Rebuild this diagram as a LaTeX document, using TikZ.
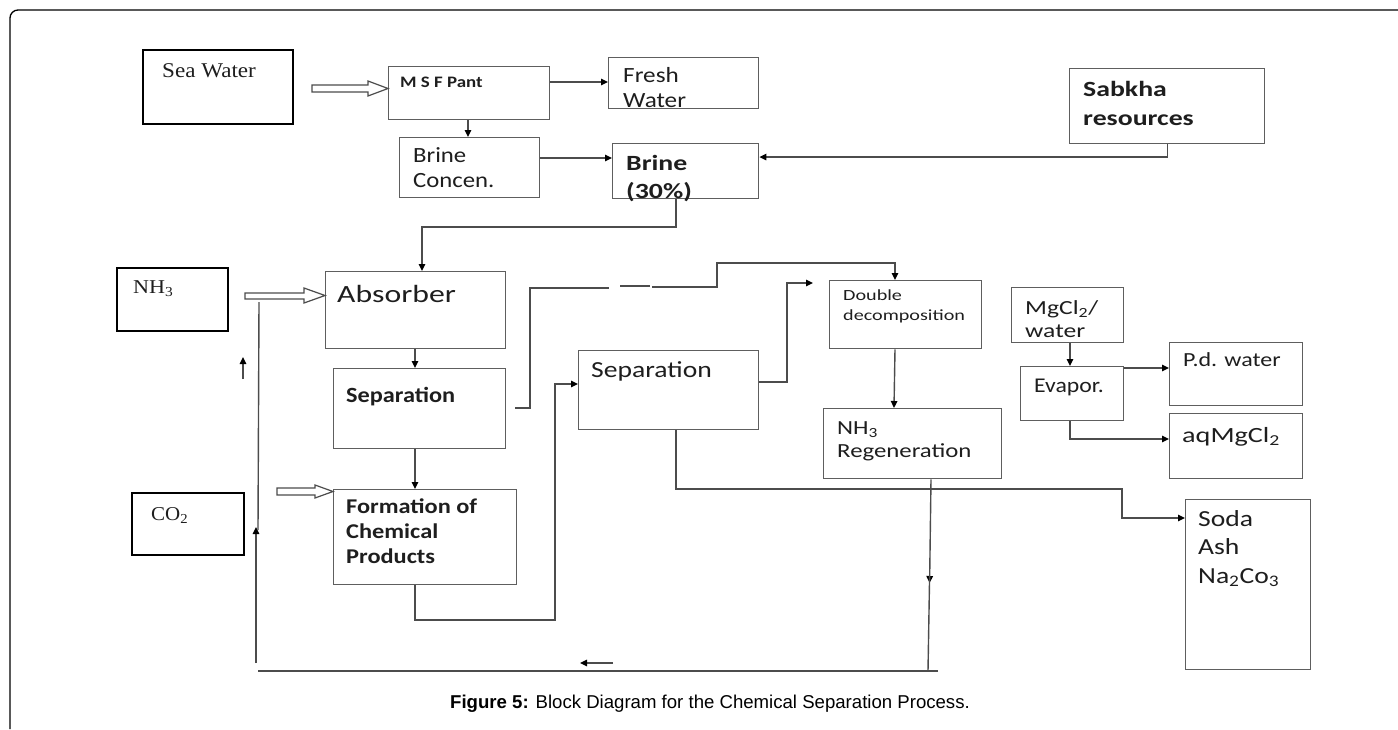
\documentclass[tikz,border=0pt]{standalone}
\usepackage{fontspec}
\usepackage{graphicx}
\setmainfont{Liberation Sans}
\newfontfamily\carl{Carlito}
\newfontfamily\tmsf{Liberation Serif}
\usetikzlibrary{arrows.meta,calc}
\definecolor{bxc}{HTML}{5E5E5E}
\definecolor{lnc}{HTML}{4C4C4C}
\definecolor{txc}{HTML}{1E1E1E}
\newcommand\rgT[3]{{\carl\fontsize{#1}{#1}\selectfont\scalebox{#2}[1]{#3}}}
\newcommand\bdT[3]{{\carl\bfseries\fontsize{#1}{#1}\selectfont\scalebox{#2}[1]{#3}}}
\newcommand\tmT[3]{{\tmsf\fontsize{#1}{#1}\selectfont\scalebox{#2}[1]{#3}}}
\begin{document}
\begin{tikzpicture}[x=1pt,y=-1pt,
  box/.style={draw=bxc, line width=1.4pt, inner sep=0pt, anchor=north west},
  kbox/.style={box, draw=black, line width=1.8pt},
  lbl/.style={inner sep=0pt, anchor=base west, text=txc},
  ln/.style={draw=lnc, line width=1.4pt},
  arr/.style={ln, -{Triangle[length=7pt,width=6.5pt,color=black]}},
  hol/.style={draw=lnc, line width=1.2pt, fill=white}]
\useasboundingbox (0,0) rectangle (1398,729);
% frame
\draw[line width=1.3pt, rounded corners=8pt] (10,729) -- (10,10) -- (1398,10);

% boxes
\node[kbox, minimum width=150pt, minimum height=74pt] (sea) at (142,49) {};
\node[box, minimum width=161pt, minimum height=53pt] (msf) at (388,66) {};
\node[box, minimum width=150pt, minimum height=51pt] (fresh) at (608,57) {};
\node[box, minimum width=140pt, minimum height=60pt] (brineC) at (399,137) {};
\node[box, minimum width=146pt, minimum height=55pt] (brine30) at (612,143) {};
\node[box, minimum width=195pt, minimum height=75pt] (sabkha) at (1069,68) {};
\node[kbox, minimum width=111pt, minimum height=63pt] (nh3) at (116,267) {};
\node[box, minimum width=180pt, minimum height=77pt] (absorber) at (325,271) {};
\node[box, minimum width=172pt, minimum height=80pt] (sep1) at (333,368) {};
\node[box, minimum width=183pt, minimum height=95pt] (formation) at (333,489) {};
\node[kbox, minimum width=112pt, minimum height=62pt] (co2) at (131,492) {};
\node[box, minimum width=180pt, minimum height=79pt] (sep2) at (578,350) {};
\node[box, minimum width=152pt, minimum height=68pt] (double) at (829,280) {};
\node[box, minimum width=178pt, minimum height=70pt] (nh3r) at (823,408) {};
\node[box, minimum width=112pt, minimum height=55pt] (mg) at (1011,287) {};
\node[box, minimum width=103pt, minimum height=54pt] (evap) at (1020,366) {};
\node[box, minimum width=133pt, minimum height=63pt] (pd) at (1169,342) {};
\node[box, minimum width=133pt, minimum height=65pt] (aq) at (1169,413) {};
\node[box, minimum width=125pt, minimum height=170pt] (soda) at (1185,499) {};

% texts
\node[lbl] (seaT) at (162,77) {\tmT{21}{1.10}{Sea Water}};
\node[lbl] (msfT) at (400,87) {\bdT{16}{1.18}{M S F Pant}};
\node[lbl] (freshT1) at (623,82) {\rgT{21.7}{1.16}{Fresh}};
\node[lbl] (freshT2) at (623,107) {\rgT{21.7}{1.16}{Water}};
\node[lbl] (brineCT1) at (413,162) {\rgT{21.7}{1.14}{Brine}};
\node[lbl] (brineCT2) at (413,187) {\rgT{21.7}{1.14}{Concen.}};
\node[lbl] (brine30T1) at (626,170) {\bdT{21.7}{1.28}{Brine}};
\node[lbl] (brine30T2) at (626,198) {\bdT{21.7}{1.28}{(30\%)}};
\node[lbl] (sabkhaT1) at (1083,96) {\bdT{21.7}{1.28}{Sabkha}};
\node[lbl] (sabkhaT2) at (1083,125) {\bdT{21.7}{1.28}{resources}};
\node[lbl] (nh3T) at (133,293) {\tmT{19.6}{1.13}{NH\textsubscript{3}}};
\node[lbl] (absorberT) at (337,302) {\rgT{24.8}{1.28}{Absorber}};
\node[lbl] (sep1T) at (346,402) {\bdT{21.7}{1.12}{Separation}};
\node[lbl] (formT1) at (346,513) {\bdT{21}{1.16}{Formation of}};
\node[lbl] (formT2) at (346,538) {\bdT{21}{1.16}{Chemical}};
\node[lbl] (formT3) at (346,563) {\bdT{21}{1.16}{Products}};
\node[lbl] (co2T) at (151,520) {\tmT{19.6}{1.07}{CO\textsubscript{2}}};
\node[lbl] (sep2T) at (591,377) {\rgT{23}{1.2}{Separation}};
\node[lbl] (doubleT1) at (843,300) {\rgT{15.5}{1.3}{Double}};
\node[lbl] (doubleT2) at (843,320) {\rgT{15.5}{1.3}{decomposition}};
\node[lbl] (nh3rT1) at (837,434) {\rgT{20}{1.24}{NH\textsubscript{3}}};
\node[lbl] (nh3rT2) at (837,457) {\rgT{20}{1.24}{Regeneration}};
\node[lbl] (mgT1) at (1025,314) {\rgT{20}{1.28}{MgCl\textsubscript{2}/}};
\node[lbl] (mgT2) at (1025,337) {\rgT{20}{1.28}{water}};
\node[lbl] (evapT) at (1034,392) {\rgT{21}{1.13}{Evapor.}};
\node[lbl] (pdT) at (1183,366) {\rgT{20}{1.2}{P.d. water}};
\node[lbl] (aqT) at (1182,442) {\rgT{21.7}{1.3}{aqMgCl\textsubscript{2}}};
\node[lbl] (sodaT1) at (1198,526) {\rgT{23}{1.2}{Soda}};
\node[lbl] (sodaT2) at (1198,554) {\rgT{23}{1.2}{Ash}};
\node[lbl] (sodaT3) at (1198,583) {\rgT{23}{1.2}{Na\textsubscript{2}Co\textsubscript{3}}};
\node[inner sep=0pt, anchor=base west, font=\fontsize{18.6}{18.6}\selectfont] (cap) at (450,708) {\textbf{Figure 5:} Block Diagram for the Chemical Separation Process.};

% hollow arrows
\draw[hol] (312,85) -- (368,85) -- (368,81) -- (msf.west |- 0,88.5) -- (368,96) -- (368,92) -- (312,92) -- cycle;
\draw[hol] (245,293) -- (304,293) -- (304,288) -- (absorber.west |- 0,295.5) -- (304,303) -- (304,299) -- (245,299) -- cycle;
\draw[hol] (277,488) -- (315,488) -- (315,485) -- (formation.west |- 0,491.5) -- (315,498) -- (315,495) -- (277,495) -- cycle;

% connectors
\draw[arr] (msf.east |- 0,82) -- (fresh.west |- 0,82);
\draw[arr] (msf.south -| 468,0) -- (brineC.north -| 468,0);
\draw[arr] (brineC.east |- 0,158) -- (brine30.west |- 0,158);
\draw[arr] (sabkha.south) -- (sabkha.south |- 0,157) -- (brine30.east |- 0,157);
\draw[arr] (brine30.south -| 676,0) -- (676,227) -- (422,227) -- (absorber.north -| 422,0);
\draw[arr] (absorber.south -| 415,0) -- (sep1.north -| 415,0);
\draw[arr] (sep1.south -| 415,0) -- (formation.north -| 415,0);
\coordinate (s1o) at (515,408);
\draw[ln] (s1o) -- (530,408) -- (530,288) -- (609,288);
\draw[ln, line width=1.8pt] (620,286) -- (650,286);
\coordinate (gapB) at (652,287);
\draw[arr] (gapB) -- (717,287) -- (717,263) -- (895,263) -- (double.north -| 895,0);
\draw[arr] (formation.south -| 415,0) -- (415,620) -- (555,620) -- (555,384) -- (sep2.west |- 0,384);
\coordinate (fe) at (813,283);
\draw[arr] (sep2.east |- 0,382) -- (787,382) -- (787,283) -- (fe);
\draw[arr] (double.south -| 895,0) -- (nh3r.north -| 894,0);
\draw[arr] (sep2.south -| 676,0) -- (676,489) -- (1122,489) -- (1122,518) -- (soda.west |- 0,518);
\draw[arr] (nh3r.south -| 931,0) -- (929.6,583);
\coordinate (rb) at (928,671);
\draw[ln] (929.6,576) -- (rb);
\coordinate (lb) at (258,671);
\draw[ln] (938,671) -- (lb);
\coordinate (la1) at (613,663);
\coordinate (la2) at (580,663);
\draw[arr] (la1) -- (la2);
\coordinate (v1) at (256,663);
\coordinate (v2) at (256,527);
\draw[arr] (v1) -- (v2);
\coordinate (v3) at (259,302);
\draw[ln] (258,530) -- (v3);
\coordinate (u1) at (243,379);
\coordinate (u2) at (243,357);
\draw[arr] (u1) -- (u2);
\draw[arr] (mg.south -| 1070,0) -- (evap.north -| 1070,0);
\draw[arr] (evap.east |- 0,368) -- (pd.west |- 0,368);
\draw[arr] (evap.south -| 1070,0) -- (1070,439) -- (aq.west |- 0,439);
\end{tikzpicture}
\end{document}
